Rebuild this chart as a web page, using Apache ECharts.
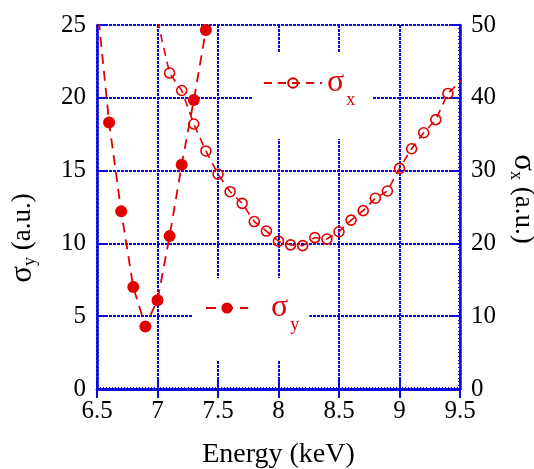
<!DOCTYPE html>
<html>
<head>
<meta charset="utf-8">
<script src="https://cdn.jsdelivr.net/npm/echarts@6/dist/echarts.min.js"></script>
<style>
  html, body { margin: 0; padding: 0; background: #fff; }
  #chart { width: 534px; height: 469px; }
</style>
</head>
<body>
<div id="chart"></div>
<script>
// ---- data ----
const energyY = [6.5, 6.6, 6.7, 6.8, 6.9, 7.0, 7.1, 7.2, 7.3, 7.4];
const sigmaY  = [26.5, 18.3, 12.2, 7.0, 4.3, 6.1, 10.5, 15.4, 19.85, 24.65];

const energyX = [7.0, 7.1, 7.2, 7.3, 7.4, 7.5, 7.6, 7.7, 7.8, 7.9, 8.0, 8.1, 8.2, 8.3, 8.4,
                 8.5, 8.6, 8.7, 8.8, 8.9, 9.0, 9.1, 9.2, 9.3, 9.4, 9.6];
const sigmaX  = [50.6, 43.4, 41.0, 36.4, 32.7, 29.5, 27.1, 25.5, 23.0, 21.7, 20.3, 19.8, 19.7, 20.8, 20.6,
                 21.6, 23.2, 24.5, 26.2, 27.2, 30.3, 33.0, 35.2, 37.0, 40.6, 43.8];

const xMin = 6.5, xMax = 9.5, xStep = 0.5;
const yLeftMin = 0, yLeftMax = 25, yLeftStep = 5;
const yRightMin = 0, yRightMax = 50, yRightStep = 10;

const RED = '#e00000';
const BLUE = '#0a0ae0';
const FONT = '"Liberation Serif", "Times New Roman", serif';

const chart = echarts.init(document.getElementById('chart'), null, { renderer: 'canvas' });

const axisCommon = {
  axisLine: { show: true, lineStyle: { color: BLUE, width: 2.5 } },
  axisTick: { show: true, inside: true, length: 9, lineStyle: { color: BLUE, width: 2 } },
  minorTick: { show: true, splitNumber: 20, length: 2, lineStyle: { color: BLUE, width: 1 } },
  axisLabel: { color: '#000', fontFamily: FONT, fontSize: 25 },
};

const gridLine = { show: true, lineStyle: { color: BLUE, width: 2, type: [3, 1] } };

const nameRich = {
  s: { fontFamily: FONT, fontSize: 31, color: '#000' },
  sub: { fontFamily: FONT, fontSize: 18, color: '#000', padding: [14, 0, 0, 0] },
  n: { fontFamily: FONT, fontSize: 27, color: '#000' }
};

const legendRichRed = {
  s: { fontFamily: FONT, fontSize: 32, color: RED },
  sub: { fontFamily: FONT, fontSize: 18, color: RED, padding: [34, 0, 0, 2] },
  sp: { fontFamily: FONT, fontSize: 32, color: RED, padding: [0, 0, 0, 18] }
};

const option = {
  animation: false,
  backgroundColor: '#fff',
  grid: { left: 97, right: 74, top: 25, bottom: 80, containLabel: false, outerBoundsMode: 'none' },
  xAxis: [
    Object.assign({}, axisCommon, {
      type: 'value', position: 'bottom', min: xMin, max: xMax, interval: xStep,
      name: 'Energy (keV)', nameLocation: 'middle', nameGap: 52,
      nameTextStyle: { fontFamily: FONT, fontSize: 28, color: '#000' },
      axisLabel: { color: '#000', fontFamily: FONT, fontSize: 25, margin: 10 },
      splitLine: gridLine
    }),
    Object.assign({}, axisCommon, {
      type: 'value', position: 'top', min: xMin, max: xMax, interval: xStep,
      axisLabel: { show: false }, splitLine: { show: false }
    })
  ],
  yAxis: [
    Object.assign({}, axisCommon, {
      type: 'value', position: 'left', min: yLeftMin, max: yLeftMax, interval: yLeftStep,
      name: '{s|σ}{sub|y}{n| (a.u.)}', nameLocation: 'middle', nameGap: 58, nameRotate: 90,
      nameTextStyle: { rich: nameRich, padding: [0, 62, 0, 0] },
      axisLabel: { color: '#000', fontFamily: FONT, fontSize: 25, margin: 11 },
      splitLine: gridLine
    }),
    Object.assign({}, axisCommon, {
      type: 'value', position: 'right', min: yRightMin, max: yRightMax, interval: yRightStep,
      name: '{s|σ}{sub|x}{n| (a.u.)}', nameLocation: 'middle', nameGap: 46, nameRotate: -90,
      nameTextStyle: { rich: nameRich, padding: [0, 16, 0, 0] },
      axisLabel: { color: '#000', fontFamily: FONT, fontSize: 25, margin: 11 },
      splitLine: { show: false }
    })
  ],
  legend: [
    {
      data: ['σx'], left: 253, top: 53, orient: 'horizontal',
      padding: [14, 17, 30, 10], backgroundColor: '#fff',
      itemWidth: 58, itemHeight: 12, selectedMode: false,
      formatter: () => '{s|σ}{sub|x}',
      textStyle: { rich: legendRichRed }
    },
    {
      data: ['σy'], left: 193, top: 278, orient: 'horizontal',
      padding: [14, 10, 26, 12], backgroundColor: '#fff',
      itemWidth: 42, itemHeight: 14, selectedMode: false,
      formatter: () => '{sp|σ}{sub|y}',
      textStyle: { rich: legendRichRed }
    }
  ],
  series: [
    {
      name: 'σy', type: 'line', xAxisIndex: 0, yAxisIndex: 0,
      data: energyY.map((e, i) => [e, sigmaY[i]]),
      symbol: 'circle', symbolSize: 12, showAllSymbol: true,
      itemStyle: { color: RED },
      lineStyle: { color: RED, width: 1.8, type: [10, 7] },
      z: 3
    },
    {
      name: 'σx', type: 'line', xAxisIndex: 0, yAxisIndex: 1,
      data: energyX.map((e, i) => [e, sigmaX[i]]),
      symbol: 'circle', symbolSize: 10, showAllSymbol: true,
      itemStyle: { color: 'rgba(255,255,255,0)', borderColor: RED, borderWidth: 1.6 },
      lineStyle: { color: RED, width: 1.6, type: [8, 6] },
      z: 3
    }
  ]
};

chart.setOption(option);
</script>
</body>
</html>
